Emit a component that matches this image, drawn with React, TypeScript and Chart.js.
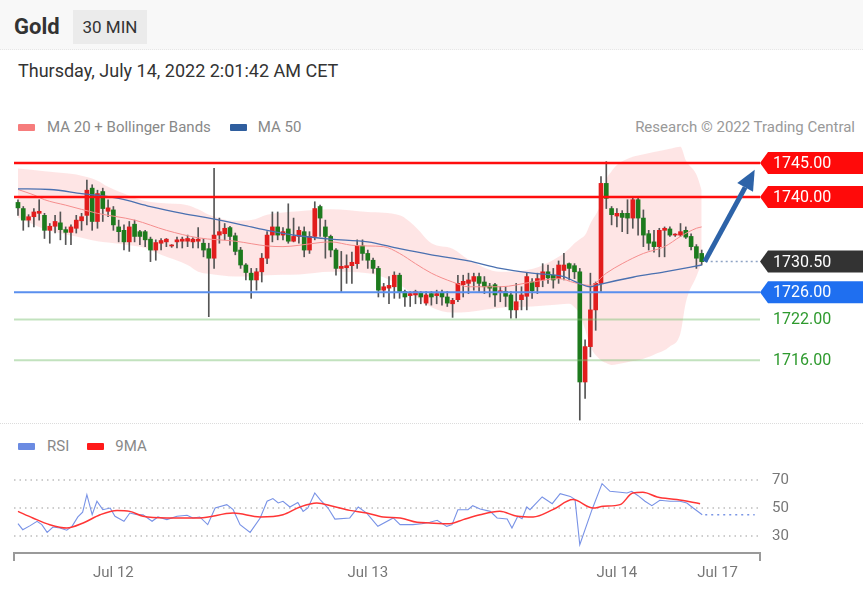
import React, { useEffect, useRef } from "react";
import { Chart, registerables } from "chart.js";

Chart.register(...registerables);

// ---------- Candles (30 min) ----------
const candleOpen = [
  1739.2, 1738.3, 1736.6, 1737.1, 1737.6, 1737.3, 1735.1, 1735.7, 1736.2, 1735.2,
  1734.8, 1735.4, 1736.5, 1737.3, 1741.3, 1736.4, 1740.8, 1737.9, 1738.1, 1735.6,
  1735.1, 1733.4, 1736.0, 1734.9, 1734.9, 1733.8, 1732.2, 1733.2, 1733.4, 1732.8,
  1733.4, 1733.5, 1733.5, 1733.4, 1733.5, 1733.2, 1732.4, 1731.0, 1734.4, 1734.6,
  1735.5, 1734.3, 1732.2, 1730.0, 1728.8, 1727.8, 1729.0, 1731.0, 1734.4, 1735.6,
  1734.4, 1735.3, 1733.5, 1734.2, 1734.9, 1732.2, 1734.2, 1738.6, 1735.6, 1734.2,
  1732.2, 1729.5, 1729.6, 1729.9, 1730.2, 1732.8, 1731.7, 1730.7, 1729.5, 1726.3,
  1726.6, 1726.8, 1728.5, 1726.1, 1725.5, 1725.6, 1725.9, 1724.4, 1725.8, 1725.5,
  1725.9, 1725.3, 1724.3, 1724.9, 1727.1, 1727.3, 1727.6, 1728.3, 1727.5, 1726.9,
  1727.1, 1726.0, 1726.1, 1725.6, 1723.4, 1724.9, 1725.4, 1727.5, 1726.8, 1727.8,
  1729.0, 1728.5, 1728.0, 1729.2, 1730.2, 1729.9, 1729.0, 1712.8, 1718.0, 1723.4,
  1727.3, 1742.0, 1738.3, 1737.2, 1737.6, 1737.6, 1736.9, 1739.6, 1736.9, 1734.6,
  1733.4, 1732.7, 1735.1, 1735.3, 1734.4, 1734.4, 1735.1, 1734.2, 1732.7, 1731.7,
];
const candleHigh = [
  1739.6, 1738.6, 1737.4, 1738.3, 1739.6, 1737.6, 1736.1, 1737.3, 1737.8, 1735.6,
  1735.9, 1737.3, 1737.6, 1742.5, 1741.8, 1741.0, 1741.3, 1739.6, 1738.6, 1736.6,
  1735.9, 1736.4, 1736.6, 1735.1, 1735.1, 1734.1, 1733.7, 1733.9, 1733.9, 1733.0,
  1734.1, 1734.1, 1734.4, 1734.0, 1735.5, 1733.9, 1733.2, 1744.2, 1736.9, 1736.1,
  1735.7, 1734.7, 1732.6, 1730.2, 1729.5, 1729.5, 1731.7, 1734.9, 1737.8, 1737.8,
  1735.5, 1739.0, 1736.9, 1735.6, 1735.6, 1734.9, 1739.3, 1738.8, 1736.6, 1734.4,
  1732.4, 1732.0, 1731.5, 1731.9, 1733.7, 1733.7, 1732.2, 1731.0, 1729.8, 1727.3,
  1728.3, 1729.0, 1728.8, 1726.3, 1726.1, 1726.3, 1726.1, 1726.1, 1726.1, 1726.3,
  1726.3, 1726.1, 1725.1, 1728.5, 1728.5, 1728.8, 1728.8, 1728.8, 1728.3, 1727.3,
  1727.3, 1726.8, 1726.8, 1726.1, 1727.3, 1726.8, 1728.8, 1728.0, 1728.8, 1730.2,
  1730.0, 1729.5, 1730.6, 1731.7, 1730.3, 1730.2, 1729.5, 1719.0, 1728.8, 1727.5,
  1743.0, 1745.2, 1738.6, 1738.3, 1738.0, 1739.6, 1739.8, 1739.8, 1738.1, 1735.1,
  1735.1, 1735.4, 1735.6, 1735.6, 1734.6, 1736.1, 1735.6, 1734.6, 1733.0, 1732.2,
];
const candleLow = [
  1737.3, 1735.1, 1735.6, 1735.6, 1736.6, 1733.9, 1733.2, 1734.7, 1733.7, 1733.0,
  1733.0, 1734.7, 1735.1, 1735.9, 1735.1, 1735.4, 1736.4, 1737.1, 1735.1, 1733.4,
  1732.2, 1732.0, 1733.4, 1733.0, 1732.7, 1730.5, 1730.7, 1732.2, 1732.7, 1732.6,
  1732.5, 1732.5, 1732.7, 1732.5, 1732.5, 1731.2, 1722.4, 1729.5, 1733.2, 1733.7,
  1732.9, 1731.5, 1729.5, 1727.8, 1725.1, 1726.3, 1727.5, 1730.2, 1733.4, 1733.7,
  1733.7, 1733.2, 1733.4, 1733.2, 1731.2, 1731.7, 1733.7, 1734.2, 1731.0, 1731.2,
  1728.5, 1726.1, 1727.3, 1727.3, 1729.5, 1730.7, 1729.5, 1728.8, 1725.3, 1725.3,
  1724.3, 1725.1, 1725.1, 1723.9, 1723.9, 1724.3, 1724.3, 1724.1, 1724.1, 1724.3,
  1724.1, 1723.9, 1722.3, 1724.6, 1725.3, 1725.8, 1726.3, 1726.1, 1725.8, 1725.3,
  1723.9, 1724.6, 1723.9, 1722.2, 1722.2, 1723.4, 1723.4, 1725.1, 1725.8, 1726.8,
  1727.3, 1726.6, 1727.3, 1727.8, 1727.8, 1728.0, 1707.2, 1710.4, 1716.5, 1720.4,
  1726.1, 1738.3, 1735.9, 1735.6, 1734.9, 1734.6, 1735.4, 1734.4, 1732.7, 1732.2,
  1731.9, 1731.2, 1731.2, 1734.2, 1734.2, 1734.2, 1733.9, 1732.2, 1729.5, 1730.0,
];
const candleClose = [
  1738.4, 1736.6, 1737.1, 1737.8, 1737.9, 1735.1, 1735.7, 1736.4, 1735.2, 1734.8,
  1735.6, 1736.6, 1737.1, 1741.0, 1736.4, 1740.5, 1738.3, 1738.4, 1735.9, 1734.9,
  1733.4, 1735.6, 1734.2, 1734.2, 1733.7, 1732.2, 1733.3, 1733.6, 1733.8, 1732.9,
  1733.7, 1733.8, 1733.9, 1733.8, 1733.8, 1732.2, 1731.0, 1734.4, 1734.9, 1735.4,
  1734.2, 1732.0, 1730.0, 1728.9, 1727.8, 1729.0, 1731.0, 1734.4, 1735.6, 1734.4,
  1734.9, 1733.5, 1734.2, 1735.1, 1732.2, 1734.2, 1738.3, 1736.9, 1734.2, 1732.2,
  1729.5, 1729.8, 1729.9, 1730.4, 1732.8, 1731.7, 1730.7, 1729.5, 1726.3, 1726.8,
  1727.0, 1728.5, 1726.1, 1725.3, 1725.8, 1726.1, 1725.3, 1725.6, 1725.3, 1725.8,
  1725.3, 1724.4, 1724.8, 1727.3, 1727.6, 1727.8, 1728.3, 1727.3, 1726.8, 1726.6,
  1725.6, 1726.2, 1725.4, 1723.4, 1724.6, 1725.6, 1728.3, 1726.2, 1728.0, 1729.0,
  1728.1, 1727.8, 1730.0, 1730.0, 1729.5, 1729.0, 1712.8, 1718.0, 1723.4, 1727.3,
  1742.0, 1739.8, 1737.4, 1737.6, 1737.0, 1736.9, 1739.6, 1736.9, 1734.4, 1733.2,
  1732.7, 1735.1, 1735.4, 1734.4, 1734.4, 1734.9, 1734.1, 1732.7, 1731.0, 1730.5,
];

// ---------- Indicators (candle index -> value) ----------
const bbIdx = [0, 5, 9, 11, 15, 17, 21, 24, 27, 32, 34, 36, 41, 44, 47, 53, 59, 66, 72, 75, 78, 82, 85, 91, 97, 102, 104, 105, 106, 107, 108, 110, 111, 112, 113, 116, 117, 120, 123, 125, 126, 128, 129];
const bbUpper = [1744.2, 1743.8, 1743.5, 1743.3, 1742.4, 1741.5, 1740.2, 1739.4, 1739.1, 1738.8, 1738.2, 1737.4, 1736.5, 1736.6, 1737.4, 1737.9, 1738.2, 1737.8, 1737.3, 1735.6, 1733.2, 1732.4, 1730.8, 1729.0, 1729.4, 1731.2, 1732.4, 1733.2, 1733.8, 1734.4, 1736.1, 1739.1, 1742.5, 1743.8, 1744.7, 1745.9, 1746.1, 1746.6, 1747.1, 1747.4, 1745.4, 1743.3, 1741.0];
const bbLower = [1737.0, 1735.3, 1734.5, 1734.2, 1733.5, 1733.3, 1732.9, 1732.5, 1731.5, 1730.0, 1729.0, 1728.7, 1728.3, 1728.3, 1728.5, 1728.6, 1729.0, 1728.8, 1727.1, 1725.4, 1723.8, 1723.0, 1723.1, 1723.7, 1723.9, 1724.2, 1724.3, 1723.8, 1722.8, 1720.5, 1718.0, 1716.0, 1715.6, 1715.3, 1715.4, 1715.9, 1716.0, 1716.8, 1718.0, 1720.0, 1724.5, 1728.3, 1730.3];

const ma20Idx = [0, 3, 5, 9, 15, 22, 28, 34, 41, 47, 50, 53, 57, 59, 63, 66, 69, 72, 75, 78, 82, 85, 91, 97, 102, 105, 108, 111, 114, 118, 122, 125, 128, 129];
const ma20Val = [1741.1, 1740.3, 1739.6, 1738.8, 1737.6, 1736.6, 1735.1, 1734.0, 1733.5, 1732.8, 1732.7, 1732.9, 1733.3, 1733.4, 1732.9, 1732.8, 1732.7, 1731.7, 1730.2, 1728.8, 1727.5, 1726.8, 1726.8, 1727.5, 1728.0, 1727.4, 1727.0, 1728.8, 1730.2, 1731.7, 1732.7, 1734.2, 1735.4, 1735.6];

const ma50Idx = [0, 6, 12, 19, 25, 31, 38, 44, 47, 53, 59, 66, 72, 78, 85, 91, 97, 103, 105, 108, 110, 116, 122, 129];
const ma50Val = [1741.2, 1741.1, 1740.5, 1739.8, 1738.6, 1737.6, 1736.6, 1735.6, 1735.1, 1734.3, 1733.8, 1733.4, 1732.4, 1731.5, 1730.6, 1729.5, 1728.8, 1728.3, 1727.6, 1726.8, 1727.2, 1728.2, 1729.0, 1730.0];

const rsiIdx = [0, 0.9, 2.3, 3.6, 4.5, 5.5, 6.6, 7.9, 9.2, 10.2, 11.3, 12.2, 13, 14, 14.9, 16, 17.4, 18.3, 20, 21.1, 22.5, 23.6, 25.3, 26.4, 28.1, 30, 31.9, 33, 34.3, 35.8, 37.2, 39.4, 40.6, 41.9, 43.8, 45.7, 47, 48.1, 49.1, 50, 51.3, 52.8, 53.8, 54.7, 56, 57, 58.5, 59.8, 62.6, 64.2, 65.8, 67.9, 70.8, 72.1, 74.5, 76.2, 77.7, 79.1, 80.9, 81.9, 83, 84.9, 85.8, 87.2, 89.1, 90.4, 92.3, 93.2, 94.3, 95.1, 96, 96.6, 98.9, 100.8, 102.3, 104.2, 105.1, 106, 108.3, 110.2, 111.7, 113.6, 114.9, 115.8, 117, 118.3, 119.6, 121.1, 123, 124.9, 126.2, 127.4, 129.1];
const rsiVal = [38.8, 34.5, 37.4, 40.5, 38.1, 32.6, 36.4, 35.7, 34.1, 36.9, 43.6, 47.0, 59.5, 45.2, 54.8, 48.8, 50.0, 44.1, 40.5, 46.4, 45.2, 45.2, 40.5, 43.6, 41.7, 44.1, 44.8, 42.9, 43.6, 38.1, 50.0, 52.4, 48.8, 38.1, 32.6, 42.9, 54.8, 56.7, 53.6, 54.8, 50.7, 54.0, 47.6, 50.0, 60.7, 56.0, 50.0, 42.1, 42.9, 50.7, 46.4, 36.9, 42.9, 38.1, 38.1, 38.8, 39.8, 41.2, 36.9, 38.1, 48.8, 48.8, 51.7, 49.3, 47.6, 42.9, 42.1, 35.7, 44.1, 42.4, 50.7, 48.8, 57.9, 53.1, 60.2, 58.3, 56.0, 23.8, 48.8, 67.4, 61.9, 61.2, 60.7, 61.9, 58.8, 54.8, 51.7, 55.5, 54.8, 54.8, 53.6, 50.0, 45.2];

const rsiMaIdx = [0, 2.8, 6, 9.2, 12.3, 15.5, 18.7, 21.1, 23.6, 28.1, 34.3, 40.6, 45.7, 50, 53.2, 56.4, 59.4, 62.6, 65.8, 68.9, 72.1, 75.3, 77.7, 81.5, 84, 87.2, 90.9, 94.2, 97.2, 100.9, 104.7, 108.5, 110.4, 113.6, 116, 117.9, 120.6, 124.3, 128.7];
const rsiMaVal = [47.6, 42.9, 38.1, 35.7, 39.3, 45.2, 48.3, 47.6, 44.1, 42.9, 42.9, 46.4, 43.6, 45.2, 50.7, 53.6, 51.2, 48.3, 46.4, 43.6, 42.9, 39.8, 39.3, 38.8, 41.7, 45.2, 47.6, 44.1, 43.6, 48.8, 56.0, 50.0, 51.2, 52.4, 60.7, 61.2, 57.9, 56.0, 53.1];

// ---------- Levels & labels ----------
const resistances = [1745, 1740];
const pivotLevel = 1726;
const supports = [1722, 1716];
const lastPrice = 1730.5;
const targetIndex = 139;
const targetPrice = 1744;
const rsiLevels = [70, 50, 30];
const dateTickIdx = [18, 66, 113, 132];
const dateTickLabels = ["Jul 12", "Jul 13", "Jul 14", "Jul 17"];

const X_MIN = -0.75;
const X_MAX = 140;
const FONT = 'Roboto, "Liberation Sans", Arial, sans-serif';

const pts = (idx: number[], vals: number[]) => idx.map((x, k) => ({ x, y: vals[k] }));

function tag(ctx: CanvasRenderingContext2D, x: number, y: number, right: number, color: string, text: string) {
  const h = 11;
  ctx.beginPath();
  ctx.moveTo(x, y);
  ctx.lineTo(x + 8, y - h);
  ctx.lineTo(right, y - h);
  ctx.lineTo(right, y + h);
  ctx.lineTo(x + 8, y + h);
  ctx.closePath();
  ctx.fillStyle = color;
  ctx.fill();
  ctx.fillStyle = "#fff";
  ctx.font = `16px ${FONT}`;
  ctx.textBaseline = "middle";
  ctx.textAlign = "left";
  ctx.fillText(text, x + 13, y + 1);
}

const mainPlugin = {
  id: "mainLevels",
  afterDatasetsDraw(chart: any) {
    const { ctx, chartArea, scales } = chart;
    const xs = scales.x;
    const ys = scales.y;
    const left = chartArea.left;
    const right = chartArea.right;
    ctx.save();
    const hline = (v: number, color: string, w: number) => {
      const y = ys.getPixelForValue(v);
      ctx.beginPath();
      ctx.strokeStyle = color;
      ctx.lineWidth = w;
      ctx.moveTo(left, y);
      ctx.lineTo(right, y);
      ctx.stroke();
    };
    supports.forEach((v) => hline(v, "rgba(120,190,110,0.45)", 2));
    hline(pivotLevel, "#5a8fee", 2);
    resistances.forEach((v) => hline(v, "#ff0d0d", 2.5));

    // dotted last price line
    const lastX = xs.getPixelForValue(candleClose.length - 1);
    const yl = ys.getPixelForValue(lastPrice);
    ctx.setLineDash([2, 3]);
    ctx.strokeStyle = "#8ea3c4";
    ctx.lineWidth = 1.5;
    ctx.beginPath();
    ctx.moveTo(lastX + 4, yl);
    ctx.lineTo(right, yl);
    ctx.stroke();
    ctx.setLineDash([]);

    // arrow
    const x0 = lastX + 3;
    const y0 = yl;
    const x1 = xs.getPixelForValue(targetIndex);
    const y1 = ys.getPixelForValue(targetPrice);
    const ang = Math.atan2(y1 - y0, x1 - x0);
    const headLen = 20;
    const bx = x1 - headLen * Math.cos(ang);
    const by = y1 - headLen * Math.sin(ang);
    ctx.strokeStyle = "#2d63a8";
    ctx.fillStyle = "#2d63a8";
    ctx.lineWidth = 5;
    ctx.beginPath();
    ctx.moveTo(x0, y0);
    ctx.lineTo(bx, by);
    ctx.stroke();
    const hw = 9;
    ctx.beginPath();
    ctx.moveTo(x1, y1);
    ctx.lineTo(bx + hw * Math.sin(ang), by - hw * Math.cos(ang));
    ctx.lineTo(bx - hw * Math.sin(ang), by + hw * Math.cos(ang));
    ctx.closePath();
    ctx.fill();

    // tags
    const W = chart.width;
    resistances.forEach((v) => tag(ctx, right, ys.getPixelForValue(v), W, "#ff0a0a", v.toFixed(2)));
    tag(ctx, right, yl, W, "#333333", lastPrice.toFixed(2));
    tag(ctx, right, ys.getPixelForValue(pivotLevel), W, "#1f6ff0", pivotLevel.toFixed(2));
    ctx.font = `16px ${FONT}`;
    ctx.fillStyle = "#2e9a2e";
    ctx.textBaseline = "middle";
    ctx.textAlign = "left";
    supports.forEach((v) => ctx.fillText(v.toFixed(2), right + 13, ys.getPixelForValue(v) + 1));
    ctx.restore();
  },
};

const rsiPlugin = {
  id: "rsiDeco",
  beforeDatasetsDraw(chart: any) {
    const { ctx, chartArea, scales } = chart;
    const ys = scales.y;
    ctx.save();
    ctx.strokeStyle = "#bdbdbd";
    ctx.lineWidth = 1.5;
    ctx.setLineDash([1.5, 4]);
    rsiLevels.forEach((v) => {
      const y = ys.getPixelForValue(v);
      ctx.beginPath();
      ctx.moveTo(chartArea.left, y);
      ctx.lineTo(chartArea.right, y);
      ctx.stroke();
    });
    ctx.restore();
  },
  afterDraw(chart: any) {
    const { ctx, chartArea, scales } = chart;
    const xs = scales.x;
    const ys = scales.y;
    ctx.save();
    // dotted extension of RSI
    const lastI = rsiIdx[rsiIdx.length - 1];
    const lastV = rsiVal[rsiVal.length - 1];
    const ye = ys.getPixelForValue(lastV);
    ctx.strokeStyle = "#7a96e6";
    ctx.lineWidth = 1.5;
    ctx.setLineDash([2, 4]);
    ctx.beginPath();
    ctx.moveTo(xs.getPixelForValue(lastI) + 3, ye);
    ctx.lineTo(xs.getPixelForValue(targetIndex), ye);
    ctx.stroke();
    ctx.setLineDash([]);

    // axis line
    const yb = chartArea.bottom;
    ctx.strokeStyle = "#9a9a9a";
    ctx.lineWidth = 2;
    ctx.beginPath();
    ctx.moveTo(chartArea.left, yb + 8);
    ctx.lineTo(chartArea.left, yb);
    ctx.lineTo(chartArea.right, yb);
    ctx.lineTo(chartArea.right, yb + 8);
    ctx.stroke();

    ctx.fillStyle = "#777";
    ctx.font = `15px ${FONT}`;
    ctx.textBaseline = "middle";
    ctx.textAlign = "center";
    dateTickIdx.forEach((i, k) => ctx.fillText(dateTickLabels[k], xs.getPixelForValue(i), yb + 20));
    ctx.textAlign = "left";
    rsiLevels.forEach((v) => ctx.fillText(String(v), chartArea.right + 12, ys.getPixelForValue(v)));
    ctx.restore();
  },
};

function Swatch({ color }: { color: string }) {
  return <span style={{ display: "inline-block", width: 17, height: 7, background: color, borderRadius: 1 }} />;
}

export default function App() {
  const mainRef = useRef<HTMLCanvasElement>(null);
  const rsiRef = useRef<HTMLCanvasElement>(null);

  useEffect(() => {
    document.body.style.margin = "0";
    const wicks = candleOpen.map((_, i) => ({ x: i, y: [candleLow[i], candleHigh[i]] }));
    const bodies = candleOpen.map((o, i) => ({ x: i, y: [o, candleClose[i]] }));
    const bodyColors = candleOpen.map((o, i) => (candleClose[i] >= o ? "#e11d1d" : "#1d7a1d"));

    const main = new Chart(mainRef.current!, {
      type: "bar",
      data: {
        datasets: [
          {
            type: "line",
            data: pts(bbIdx, bbUpper),
            borderWidth: 0,
            borderColor: "rgba(0,0,0,0)",
            pointRadius: 0,
            fill: "+1",
            backgroundColor: "rgba(250,100,100,0.17)",
            cubicInterpolationMode: "monotone",
            order: 10,
          } as any,
          {
            type: "line",
            data: pts(bbIdx, bbLower),
            borderWidth: 0,
            borderColor: "rgba(0,0,0,0)",
            pointRadius: 0,
            fill: false,
            cubicInterpolationMode: "monotone",
            order: 10,
          } as any,
          {
            type: "bar",
            data: wicks,
            backgroundColor: "#555",
            barThickness: 1,
            grouped: false,
            order: 6,
          } as any,
          {
            type: "bar",
            data: bodies,
            backgroundColor: bodyColors,
            barThickness: 4,
            grouped: false,
            minBarLength: 1,
            order: 5,
          } as any,
          {
            type: "line",
            data: pts(ma20Idx, ma20Val),
            borderColor: "#f58d8d",
            borderWidth: 1,
            pointRadius: 0,
            fill: false,
            cubicInterpolationMode: "monotone",
            order: 2,
          } as any,
          {
            type: "line",
            data: pts(ma50Idx, ma50Val),
            borderColor: "#4a70b0",
            borderWidth: 1.3,
            pointRadius: 0,
            fill: false,
            cubicInterpolationMode: "monotone",
            order: 1,
          } as any,
        ],
      },
      options: {
        responsive: false,
        animation: false,
        devicePixelRatio: 1,
        layout: { padding: { left: 14, right: 103, top: 0, bottom: 0 } },
        scales: {
          x: { type: "linear", min: X_MIN, max: X_MAX, display: false, offset: false },
          y: { type: "linear", min: 1705.74, max: 1748.38, display: false },
        },
        plugins: { legend: { display: false }, tooltip: { enabled: false } },
      } as any,
      plugins: [mainPlugin],
    });

    const rsi = new Chart(rsiRef.current!, {
      type: "line",
      data: {
        datasets: [
          {
            data: pts(rsiMaIdx, rsiMaVal),
            borderColor: "#ff3535",
            borderWidth: 1.5,
            pointRadius: 0,
            fill: false,
            cubicInterpolationMode: "monotone",
            order: 1,
          },
          {
            data: pts(rsiIdx, rsiVal),
            borderColor: "#7892e6",
            borderWidth: 1.1,
            pointRadius: 0,
            fill: false,
            order: 2,
          },
        ],
      },
      options: {
        responsive: false,
        animation: false,
        devicePixelRatio: 1,
        layout: { padding: { left: 14, right: 103, top: 2, bottom: 40 } },
        scales: {
          x: { type: "linear", min: X_MIN, max: X_MAX, display: false },
          y: { type: "linear", min: 17.86, max: 82.86, display: false },
        },
        plugins: { legend: { display: false }, tooltip: { enabled: false } },
      } as any,
      plugins: [rsiPlugin],
    });

    return () => {
      main.destroy();
      rsi.destroy();
    };
  }, []);

  const legendText: React.CSSProperties = { fontSize: 15, color: "#888" };

  return (
    <div style={{ position: "relative", width: 863, height: 593, background: "#fff", fontFamily: FONT, overflow: "hidden" }}>
      <div style={{ position: "absolute", left: 0, top: 0, width: 863, height: 49, background: "#f8f8f8", borderBottom: "1px dotted #e6e6e6" }} />
      <div style={{ position: "absolute", left: 14, top: 13, fontSize: 22, fontWeight: 700, color: "#333", lineHeight: "28px" }}>Gold</div>
      <div style={{ position: "absolute", left: 73, top: 10, width: 74, height: 34, background: "#ebebeb", color: "#333", fontSize: 17, lineHeight: "34px", textAlign: "center" }}>30 MIN</div>
      <div style={{ position: "absolute", left: 18, top: 60, fontSize: 18, color: "#333", lineHeight: "22px" }}>Thursday, July 14, 2022 2:01:42 AM CET</div>

      <div style={{ position: "absolute", left: 18, top: 118, height: 18, display: "flex", alignItems: "center" }}>
        <Swatch color="#f67c7c" />
        <span style={{ ...legendText, marginLeft: 12 }}>MA 20 + Bollinger Bands</span>
        <span style={{ marginLeft: 19, display: "inline-flex" }}><Swatch color="#2f5e9e" /></span>
        <span style={{ ...legendText, marginLeft: 11 }}>MA 50</span>
      </div>
      <div style={{ position: "absolute", right: 8, top: 118, height: 18, lineHeight: "18px", fontSize: 15, color: "#999" }}>Research © 2022 Trading Central</div>

      <canvas ref={mainRef} width={863} height={290} style={{ position: "absolute", left: 0, top: 140, width: 863, height: 290 }} />

      <div style={{ position: "absolute", left: 0, top: 423, width: 863, borderTop: "1px dotted #dcdcdc" }} />

      <div style={{ position: "absolute", left: 18, top: 437, height: 18, display: "flex", alignItems: "center" }}>
        <Swatch color="#6b8be2" />
        <span style={{ ...legendText, marginLeft: 12 }}>RSI</span>
        <span style={{ marginLeft: 18, display: "inline-flex" }}><Swatch color="#ff1a1a" /></span>
        <span style={{ ...legendText, marginLeft: 11 }}>9MA</span>
      </div>

      <canvas ref={rsiRef} width={863} height={133} style={{ position: "absolute", left: 0, top: 460, width: 863, height: 133 }} />
    </div>
  );
}
